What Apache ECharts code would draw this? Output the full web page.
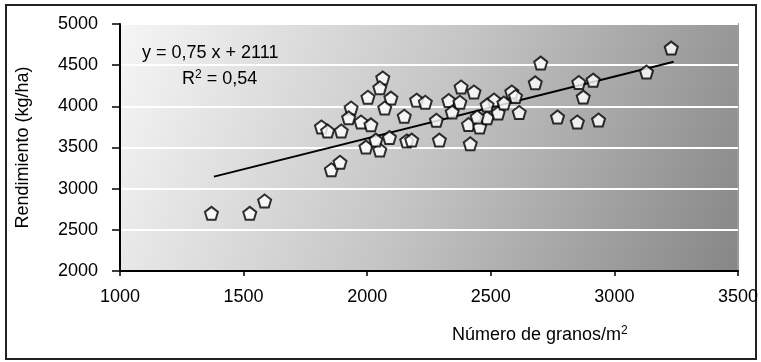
<!DOCTYPE html>
<html>
<head>
<meta charset="utf-8">
<script src="https://cdn.jsdelivr.net/npm/echarts@6/dist/echarts.min.js"></script>
<style>
html,body{margin:0;padding:0;background:#fff;}
#c{width:761px;height:362px;}
</style>
</head>
<body>
<div id="c"></div>
<script>
var granos = [1370,1525,1585,1815,1840,1895,1855,1890,1935,1975,2003,2015,1995,2051,2035,2063,2051,2096,2071,2090,2150,2160,2180,2200,2235,2292,2330,2380,2432,2375,2344,2410,2455,2417,2485,2513,2530,2445,2485,2553,2585,2600,2615,2680,2702,2770,2850,2936,2856,2874,2914,3130,3230,1925,2280];
var rendimiento = [2700,2700,2850,3750,3700,3700,3230,3320,3980,3810,4110,3775,3505,3470,3590,4345,4225,4100,3980,3620,3880,3580,3590,4075,4050,3590,4070,4235,4175,4050,3930,3780,3750,3545,3860,4076,3920,3870,4015,4040,4175,4120,3925,4285,4525,3870,3810,3833,4290,4112,4318,4416,4707,3860,3830];
var trendX = [1380, 3240];
var trendY = [3146, 4541];
var xTicks = [1000,1500,2000,2500,3000,3500];
var yTicks = [2000,2500,3000,3500,4000,4500,5000];

var pts = granos.map(function(x,i){return [x, rendimiento[i]];});
var trend = trendX.map(function(x,i){return [x, trendY[i]];});
var FONT = 'Liberation Sans';
function plain(v){return String(v);}

var chart = echarts.init(document.getElementById('c'));
chart.setOption({
  animation:false,
  backgroundColor:'#fff',
  textStyle:{fontFamily:FONT},
  grid:{left:120,right:18,top:24,bottom:91,show:true,
    backgroundColor:new echarts.graphic.LinearGradient(0,0,1,1,[{offset:0,color:'#f6f6f6'},{offset:0.5,color:'#c4c4c4'},{offset:1,color:'#868686'}]),
    borderColor:'#9a9a9a',borderWidth:2},
  xAxis:{type:'value',min:xTicks[0],max:xTicks[xTicks.length-1],interval:500,
    axisLine:{show:true,onZero:false,lineStyle:{color:'#000',width:2}},
    axisTick:{show:true,length:5,lineStyle:{color:'#000',width:1.5}},
    axisLabel:{color:'#000',fontSize:18,margin:17,fontFamily:FONT,formatter:plain},
    splitLine:{show:false}},
  yAxis:{type:'value',min:yTicks[0],max:yTicks[yTicks.length-1],interval:500,
    name:'Rendimiento (kg/ha)',nameLocation:'middle',nameGap:88,nameRotate:90,
    nameTextStyle:{color:'#000',fontSize:18,fontFamily:FONT},
    axisLine:{show:true,onZero:false,lineStyle:{color:'#000',width:2}},
    axisTick:{show:true,length:8,lineStyle:{color:'#000',width:1.5}},
    axisLabel:{color:'#000',fontSize:18,margin:22,fontFamily:FONT,formatter:plain},
    splitLine:{show:true,lineStyle:{color:'#ffffff',width:2}}},
  graphic:[
    {type:'rect',shape:{x:6,y:5,width:750,height:354},style:{fill:'none',stroke:'#222',lineWidth:2},z:-1},
    {type:'text',left:142,top:44,style:{text:'y = 0,75 x + 2111',fill:'#000',font:'18px "Liberation Sans"'}},
    {type:'text',left:182,top:69,style:{text:'R{sup|2} = 0,54',fill:'#000',font:'18px "Liberation Sans"',
      rich:{sup:{fontSize:12,padding:[0,0,9,0],fill:'#000'}}}},
    {type:'text',left:452,top:325,style:{text:'Número de granos/m{sup|2}',fill:'#000',font:'18px "Liberation Sans"',
      rich:{sup:{fontSize:12,padding:[0,0,9,0],fill:'#000'}}}}
  ],
  series:[
    {type:'line',data:trend,symbol:'none',lineStyle:{color:'#000',width:2},z:2,silent:true},
    {type:'scatter',data:pts,symbol:'path://M0,-10 L9.5,-3 L6,8 L-6,8 L-9.5,-3 Z',symbolSize:13,
      itemStyle:{color:'#fff',borderColor:'#000',borderWidth:2},z:3}
  ]
});
</script>
</body>
</html>
